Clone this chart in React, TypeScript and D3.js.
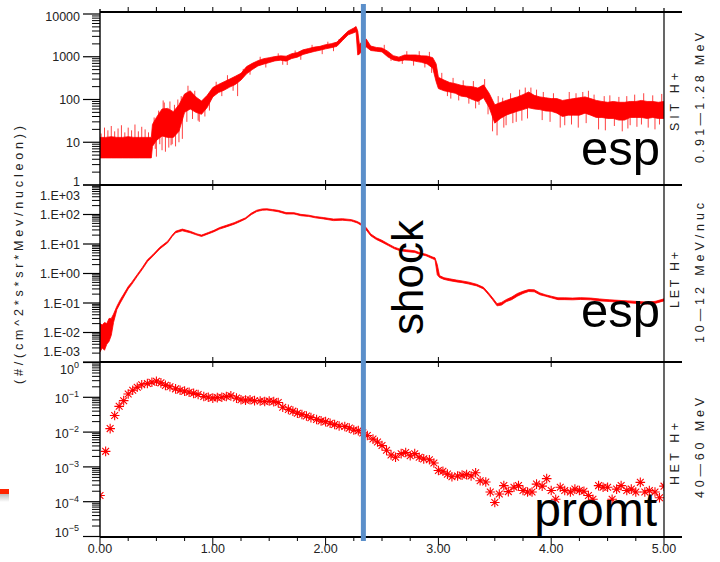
import React from "react";
import * as d3 from "d3";

const W = 720;
const H = 562;

// time axis, days
const timeMajor = [0, 1, 2, 3, 4, 5];
const timeLabels = ["0.00", "1.00", "2.00", "3.00", "4.00", "5.00"];
const shockTime = 2.335;

// SIT H+ 0.91–1.28 MeV : [time, low, high] envelope of the noisy flux
const sitBand: number[][] = [
  [0.0, 4.3, 13], [0.05, 4.3, 13], [0.1, 4.3, 13.5], [0.15, 4.3, 13], [0.2, 4.3, 13],
  [0.25, 4.3, 13.5], [0.3, 4.3, 13], [0.35, 4.3, 13], [0.4, 4.3, 13], [0.455, 4.3, 13],
  [0.465, 8, 26], [0.5, 11, 38], [0.55, 14, 60], [0.6, 13, 62], [0.65, 13, 52],
  [0.7, 18, 75], [0.75, 50, 135], [0.8, 60, 160], [0.85, 50, 115], [0.9, 45, 92],
  [0.95, 65, 125], [1.0, 115, 190], [1.05, 145, 225], [1.1, 165, 260], [1.15, 195, 300],
  [1.2, 225, 350], [1.25, 285, 410], [1.3, 400, 590], [1.35, 500, 700], [1.4, 610, 810],
  [1.45, 670, 900], [1.5, 730, 950], [1.55, 800, 1010], [1.6, 830, 1050], [1.65, 790, 1030],
  [1.7, 910, 1180], [1.75, 980, 1250], [1.8, 1130, 1450], [1.85, 1230, 1560], [1.9, 1330, 1680],
  [1.95, 1420, 1750], [2.0, 1530, 1920], [2.05, 1630, 2020], [2.1, 1750, 2200], [2.15, 2400, 3000],
  [2.2, 3250, 4000], [2.25, 3650, 4700], [2.27, 3850, 5100], [2.285, 1100, 4000], [2.3, 1150, 1900],
  [2.33, 1500, 2400], [2.36, 1700, 2600], [2.4, 1400, 1780], [2.45, 1350, 1650], [2.5, 1300, 1600],
  [2.55, 1000, 1350], [2.6, 840, 1060], [2.65, 790, 980], [2.7, 840, 1100], [2.75, 830, 1100],
  [2.8, 780, 1100], [2.85, 740, 1050], [2.9, 680, 1040], [2.95, 540, 950], [2.98, 260, 680],
  [3.0, 180, 330], [3.05, 160, 285], [3.1, 150, 250], [3.15, 140, 235], [3.2, 120, 215],
  [3.25, 115, 205], [3.3, 100, 200], [3.35, 90, 185], [3.4, 110, 220], [3.45, 65, 140],
  [3.5, 28, 75], [3.55, 36, 85], [3.6, 43, 95], [3.65, 48, 105], [3.7, 53, 115],
  [3.75, 58, 130], [3.8, 64, 150], [3.85, 60, 125], [3.9, 58, 115], [3.95, 54, 110],
  [4.0, 53, 105], [4.05, 48, 105], [4.1, 40, 95], [4.15, 43, 100], [4.2, 43, 105],
  [4.25, 43, 110], [4.3, 48, 115], [4.35, 43, 105], [4.4, 38, 95], [4.45, 38, 90],
  [4.5, 36, 86], [4.55, 36, 90], [4.6, 33, 86], [4.65, 33, 86], [4.7, 38, 90],
  [4.75, 38, 90], [4.8, 38, 95], [4.85, 36, 90], [4.9, 38, 90], [4.95, 36, 86], [5.0, 36, 90],
];

// isolated excursions of the SIT rate: [time, value]
const sitSpikes: number[][] = [
  [0.01, 16], [0.04, 22], [0.07, 19], [0.1, 24], [0.13, 18], [0.16, 21], [0.19, 25],
  [0.22, 17], [0.25, 22], [0.28, 19], [0.31, 26], [0.34, 18], [0.37, 23], [0.4, 20], [0.43, 17],
  [0.48, 38], [0.52, 55], [0.54, 30], [0.56, 95], [0.57, 85], [0.59, 60], [0.62, 90],
  [0.66, 75], [0.69, 100], [0.72, 120], [0.74, 95], [0.78, 210], [0.84, 160],
  [0.49, 7], [0.5, 4.6], [0.53, 9], [0.55, 6.5], [0.58, 6], [0.61, 7.5], [0.63, 8.5],
  [0.64, 9], [0.67, 8], [0.7, 10], [0.73, 12], [0.77, 30], [0.82, 35], [0.87, 32],
  [0.88, 30], [0.93, 40], [0.97, 55],
  [1.03, 260], [1.13, 370], [1.27, 520], [1.42, 1000], [1.58, 1200], [1.73, 1400],
  [1.88, 1900], [2.02, 2250], [2.12, 2600],
  [1.08, 120], [1.18, 160], [1.22, 120], [1.33, 380], [1.47, 560], [1.62, 650], [1.66, 640],
  [1.78, 850], [1.97, 1150], [2.07, 1350],
  [2.52, 1900], [2.72, 1350], [2.83, 1350], [2.92, 1300],
  [2.58, 800], [2.68, 680], [2.78, 620], [2.88, 560], [2.94, 420],
  [3.03, 420], [3.13, 320], [3.22, 280], [3.31, 270], [3.41, 300],
  [3.08, 120], [3.11, 105], [3.18, 95], [3.27, 80], [3.33, 62], [3.36, 75], [3.44, 45],
  [3.53, 120], [3.57, 110], [3.64, 140], [3.72, 170], [3.77, 190], [3.82, 190], [3.87, 170],
  [3.93, 150], [4.02, 140], [4.16, 150], [4.22, 140], [4.28, 150], [4.33, 160], [4.38, 130],
  [4.47, 120], [4.52, 125], [4.6, 115], [4.67, 120], [4.74, 130], [4.82, 140], [4.9, 125], [4.98, 135],
  [3.48, 18], [3.52, 14.5], [3.58, 22], [3.6, 25], [3.66, 28], [3.69, 30], [3.74, 32], [3.79, 36],
  [3.92, 33], [3.99, 30], [4.08, 22], [4.12, 25], [4.18, 26], [4.24, 22], [4.31, 28], [4.42, 20],
  [4.48, 19], [4.56, 24], [4.63, 18], [4.68, 21], [4.7, 25], [4.76, 23], [4.8, 26], [4.86, 22],
  [4.92, 20], [4.96, 26],
];

// LET H+ 10–12 MeV/nuc : [time, low, high]
const letBand: number[][] = [
  [0.0, 0.0022, 0.02], [0.02, 0.003, 0.018], [0.04, 0.0025, 0.022], [0.06, 0.004, 0.02],
  [0.08, 0.005, 0.03], [0.1, 0.008, 0.03], [0.12, 0.022, 0.042], [0.15, 0.06, 0.078],
  [0.18, 0.1, 0.13], [0.21, 0.16, 0.2], [0.25, 0.3, 0.36], [0.28, 0.42, 0.5],
  [0.33, 0.8, 0.92], [0.375, 1.38, 1.6], [0.42, 2.5, 2.9], [0.47, 3.9, 4.4],
  [0.53, 6.8, 7.7], [0.6, 11, 12.5], [0.64, 18, 20], [0.67, 24, 27], [0.73, 28, 32],
  [0.8, 24, 27], [0.86, 20, 22], [0.9, 18, 20], [0.96, 22, 24.5], [1.01, 26, 29],
  [1.06, 32, 36], [1.12, 38, 43], [1.19, 47, 53], [1.24, 57, 64], [1.29, 70, 77],
  [1.34, 98, 110], [1.39, 126, 140], [1.44, 140, 155], [1.48, 142, 156], [1.53, 133, 147],
  [1.58, 124, 138], [1.65, 104, 116], [1.72, 104, 115], [1.78, 91, 101], [1.85, 86, 95],
  [1.91, 77, 85], [1.98, 71, 79], [2.07, 62, 70], [2.15, 64, 72], [2.23, 60, 67],
  [2.28, 52, 58], [2.32, 42, 48], [2.36, 30, 36], [2.4, 19, 22], [2.45, 14.2, 16.2],
  [2.5, 11.5, 13.3], [2.56, 8.7, 9.9], [2.61, 6.9, 7.8], [2.66, 5.9, 6.7], [2.72, 5.5, 6.3],
  [2.79, 5.2, 5.9], [2.84, 4.4, 5.0], [2.89, 4.0, 4.5], [2.95, 3.15, 3.6], [2.97, 2.9, 3.4],
  [2.99, 0.9, 2.0], [3.01, 0.73, 0.85], [3.05, 0.63, 0.72], [3.1, 0.57, 0.66], [3.16, 0.52, 0.6],
  [3.21, 0.49, 0.56], [3.27, 0.44, 0.51], [3.34, 0.38, 0.43], [3.4, 0.3, 0.34], [3.44, 0.2, 0.23],
  [3.48, 0.13, 0.15], [3.52, 0.08, 0.095], [3.56, 0.085, 0.105], [3.6, 0.11, 0.13], [3.65, 0.13, 0.16],
  [3.7, 0.17, 0.21], [3.75, 0.21, 0.25], [3.8, 0.245, 0.285], [3.85, 0.24, 0.28], [3.9, 0.19, 0.22],
  [3.95, 0.17, 0.19], [4.0, 0.15, 0.17], [4.06, 0.13, 0.15], [4.12, 0.13, 0.15], [4.19, 0.128, 0.147],
  [4.26, 0.132, 0.152], [4.35, 0.128, 0.147], [4.43, 0.118, 0.137], [4.52, 0.112, 0.128],
  [4.6, 0.107, 0.123], [4.68, 0.102, 0.118], [4.76, 0.097, 0.113], [4.84, 0.092, 0.108],
  [4.92, 0.097, 0.113], [5.0, 0.118, 0.138],
];

// HET H+ 40–60 MeV : [time, flux]
const hetPoints: number[][] = [
  [0.0, 1.5e-4], [0.05, 2.8e-3], [0.09, 0.0126], [0.13, 0.03], [0.17, 0.055], [0.21, 0.08],
  [0.25, 0.125], [0.29, 0.16], [0.33, 0.195], [0.37, 0.23], [0.42, 0.25], [0.46, 0.27],
  [0.5, 0.29], [0.54, 0.26], [0.58, 0.22], [0.62, 0.2], [0.67, 0.175], [0.71, 0.16],
  [0.75, 0.15], [0.79, 0.14], [0.83, 0.13], [0.87, 0.12], [0.92, 0.105], [0.96, 0.1],
  [1.0, 0.095], [1.04, 0.098], [1.08, 0.1], [1.12, 0.105], [1.16, 0.11], [1.21, 0.095],
  [1.25, 0.085], [1.29, 0.083], [1.33, 0.085], [1.37, 0.08], [1.42, 0.078], [1.46, 0.076],
  [1.5, 0.078], [1.54, 0.075], [1.58, 0.071], [1.62, 0.052], [1.67, 0.045], [1.71, 0.04],
  [1.75, 0.035], [1.79, 0.032], [1.83, 0.029], [1.87, 0.026], [1.92, 0.023], [1.96, 0.021],
  [2.0, 0.02], [2.04, 0.018], [2.08, 0.0165], [2.12, 0.015], [2.17, 0.0145], [2.21, 0.013],
  [2.25, 0.0115], [2.29, 0.011], [2.33, 0.0095], [2.37, 0.008], [2.42, 0.0063], [2.46, 0.0052],
  [2.5, 0.0041], [2.54, 0.003], [2.58, 0.0022], [2.62, 0.0019], [2.67, 0.0024], [2.71, 0.0026],
  [2.75, 0.0021], [2.79, 0.0024], [2.83, 0.0019], [2.87, 0.0017], [2.92, 0.0016], [2.96, 0.0013],
  [3.0, 0.00079], [3.04, 0.00075], [3.08, 0.00062], [3.12, 0.00052], [3.17, 0.00055], [3.21, 0.00058],
  [3.25, 0.0006], [3.29, 0.00055], [3.33, 0.00068], [3.37, 0.0004], [3.42, 0.00037], [3.46, 0.00019],
  [3.5, 0.000095], [3.54, 0.000166], [3.58, 0.00029], [3.62, 0.000195], [3.67, 0.00026], [3.71, 0.00029],
  [3.75, 0.00021], [3.79, 0.00019], [3.83, 0.00019], [3.87, 0.00032], [3.92, 0.00028], [3.96, 0.00046],
  [4.0, 0.00021], [4.04, 0.000118], [4.08, 0.00026], [4.12, 0.00021], [4.17, 0.00019], [4.21, 0.00023],
  [4.25, 0.00021], [4.29, 0.0002], [4.33, 0.00015], [4.37, 0.000118], [4.42, 0.00029], [4.46, 0.00026],
  [4.5, 0.00026], [4.54, 0.000118], [4.58, 0.00023], [4.62, 0.00029], [4.67, 0.00021], [4.71, 0.00023],
  [4.75, 0.00019], [4.79, 0.00036], [4.83, 0.00019], [4.87, 0.00021], [4.92, 0.00019], [4.96, 0.00013],
  [5.0, 0.00028],
];

// y-axis tick values and labels
const sitTicks = [1, 10, 100, 1000, 10000];
const sitLabels = ["1", "10", "100", "1000", "10000"];
const letTicks = [1e-3, 1e-2, 1e-1, 1, 10, 100, 1000];
const letLabels = ["1.E-03", "1.E-02", "1.E-01", "1.E+00", "1.E+01", "1.E+02", "1.E+03"];
const hetTicks = [1e-5, 1e-4, 1e-3, 1e-2, 1e-1, 1];
const hetExponents = ["−5", "−4", "−3", "−2", "−1", "0"];

const X0 = 100;
const X1 = 664;
const RED = "#ff0000";
const FONT = "'Liberation Sans', Arial, sans-serif";

const x = d3.scaleLinear().domain([0, 5]).range([X0, X1]);

type Panel = {
  id: string;
  top: number;
  bottom: number;
  scale: d3.ScaleLogarithmic<number, number>;
  ticks: number[];
  nudgeTop: number;
  nudgeBottom: number;
  name: string;
  range: string;
  nameY: number;
  rangeY: number;
  nameLen: number;
  rangeLen: number;
};

const panels: Panel[] = [
  {
    id: "sit", top: 12, bottom: 185,
    scale: d3.scaleLog().domain([1, 1e4]).range([185, 14]),
    ticks: sitTicks, nudgeTop: 2, nudgeBottom: -4,
    name: "SIT  H+", range: "0.91—1.28  MeV", nameY: 102, rangeY: 98, nameLen: 58, rangeLen: 130,
  },
  {
    id: "let", top: 185, bottom: 362,
    scale: d3.scaleLog().domain([1e-3, 1e3]).range([362, 185]),
    ticks: letTicks, nudgeTop: 10, nudgeBottom: -11,
    name: "LET  H+", range: "10—12  MeV/nuc", nameY: 280, rangeY: 273, nameLen: 56, rangeLen: 140,
  },
  {
    id: "het", top: 362, bottom: 537,
    scale: d3.scaleLog().domain([1e-5, 1]).range([536.5, 362.5]),
    ticks: hetTicks, nudgeTop: 5, nudgeBottom: -6,
    name: "HET  H+", range: "40—60  MeV", nameY: 454, rangeY: 448, nameLen: 62, rangeLen: 100,
  },
];

function minorTicks(scale: d3.ScaleLogarithmic<number, number>): number[] {
  const [lo, hi] = scale.domain();
  const out: number[] = [];
  for (let k = Math.floor(Math.log10(lo)); k < Math.ceil(Math.log10(hi)); k++) {
    for (let m = 2; m <= 9; m++) {
      const v = m * Math.pow(10, k);
      if (v > lo && v < hi) out.push(v);
    }
  }
  return out;
}

function asterisk(cx: number, cy: number): string {
  const r = 4.8;
  const d = 3.4;
  return `M${cx - r},${cy}H${cx + r}M${cx},${cy - r}V${cy + r}` +
    `M${cx - d},${cy - d}L${cx + d},${cy + d}M${cx - d},${cy + d}L${cx + d},${cy - d}`;
}

function bandMid(band: number[][], t: number): number {
  const i = d3.bisector((d: number[]) => d[0]).left(band, t);
  const a = band[Math.max(0, i - 1)];
  const b = band[Math.min(band.length - 1, i)];
  const f = b[0] === a[0] ? 0 : (t - a[0]) / (b[0] - a[0]);
  const la = Math.log10(Math.sqrt(a[1] * a[2]));
  const lb = Math.log10(Math.sqrt(b[1] * b[2]));
  return Math.pow(10, la + (lb - la) * f);
}

export default function App() {
  const [sitP, letP, hetP] = panels;

  const sitArea = d3.area<number[]>()
    .x((d) => x(d[0]))
    .y0((d) => sitP.scale(d[1]))
    .y1((d) => sitP.scale(d[2]))(sitBand) as string;

  const letArea = d3.area<number[]>()
    .x((d) => x(d[0]))
    .y0((d) => letP.scale(d[1]))
    .y1((d) => letP.scale(d[2]))(letBand) as string;

  const quarterTicks = d3.range(0, 5.0001, 0.25);

  return (
    <svg
      width={W}
      height={H}
      viewBox={`0 0 ${W} ${H}`}
      style={{ position: "absolute", left: 0, top: 0, display: "block", background: "#fff" }}
      fontFamily={FONT}
    >
      <defs>
        {panels.map((p) => (
          <clipPath id={`clip-${p.id}`} key={p.id}>
            <rect x={X0} y={p.top} width={X1 - X0} height={p.bottom - p.top} />
          </clipPath>
        ))}
        <linearGradient id="dashShade" x1="0" y1="0" x2="0" y2="1">
          <stop offset="0" stopColor="#bdbdbd" />
          <stop offset="1" stopColor="#ffffff" />
        </linearGradient>
      </defs>
      <rect width={W} height={H} fill="#fff" />

      {/* data */}
      <g clipPath="url(#clip-sit)">
        <path d={sitArea} fill={RED} stroke={RED} strokeWidth={0.8} strokeLinejoin="round" />
        {sitSpikes.map(([t, v], i) => (
          <line
            key={i}
            x1={x(t)}
            x2={x(t)}
            y1={sitP.scale(bandMid(sitBand, t))}
            y2={sitP.scale(v)}
            stroke={RED}
            strokeWidth={1}
            opacity={0.75}
          />
        ))}
      </g>
      <g clipPath="url(#clip-let)">
        <path d={letArea} fill={RED} stroke={RED} strokeWidth={0.8} strokeLinejoin="round" />
      </g>
      <g clipPath="url(#clip-het)">
        {hetPoints.map(([t, v], i) => (
          <path key={i} d={asterisk(x(t), hetP.scale(v))} stroke={RED} strokeWidth={1.1} fill="none" />
        ))}
      </g>

      {/* frame lines */}
      <g stroke="#000">
        {[12, 185, 362, 537].map((y) => (
          <line key={y} x1={X0} x2={682} y1={y} y2={y} strokeWidth={2} />
        ))}
        <line x1={X0} x2={X0} y1={9} y2={537} strokeWidth={1.4} />
        <line x1={X1} x2={X1} y1={8} y2={537} strokeWidth={1.2} />
        {/* time ticks along the top border */}
        {quarterTicks.slice(1, -1).map((t) => (
          <line key={`tt${t}`} x1={x(t)} x2={x(t)} y1={7} y2={12} strokeWidth={1} />
        ))}
        {/* whole-day ticks across the panel dividers */}
        {[185, 362].map((y) =>
          timeMajor.slice(1, -1).map((t) => (
            <line key={`d${y}-${t}`} x1={x(t)} x2={x(t)} y1={y - 5} y2={y + 5} strokeWidth={1} />
          ))
        )}
        {/* bottom time axis */}
        {quarterTicks.map((t) => {
          const major = Math.abs(t - Math.round(t)) < 1e-6;
          return (
            <line key={`bt${t}`} x1={x(t)} x2={x(t)} y1={537} y2={major ? 545 : 541} strokeWidth={1} />
          );
        })}
      </g>

      {/* y axes */}
      {panels.map((p) => (
        <g key={`ax-${p.id}`} stroke="#000">
          {minorTicks(p.scale).map((v) => (
            <line key={v} x1={X0 - 8} x2={X0} y1={p.scale(v)} y2={p.scale(v)} strokeWidth={1} />
          ))}
          {p.ticks.map((v) => (
            <line key={`M${v}`} x1={X0 - 17} x2={X0} y1={p.scale(v)} y2={p.scale(v)} strokeWidth={1.2} />
          ))}
        </g>
      ))}

      {/* tick labels */}
      <g fontSize={12.5} fill="#222">
        {sitTicks.map((v, i) => {
          const nudge = i === 0 ? sitP.nudgeBottom : i === sitTicks.length - 1 ? sitP.nudgeTop : 0;
          return (
            <text key={v} x={80} y={sitP.scale(v) + nudge + 4.5} textAnchor="end">
              {sitLabels[i]}
            </text>
          );
        })}
        {letTicks.map((v, i) => {
          const nudge = i === 0 ? letP.nudgeBottom : i === letTicks.length - 1 ? letP.nudgeTop : 0;
          return (
            <text key={v} x={80} y={letP.scale(v) + nudge + 4.5} textAnchor="end">
              {letLabels[i]}
            </text>
          );
        })}
        {hetTicks.map((v, i) => {
          const nudge = i === 0 ? hetP.nudgeBottom : i === hetTicks.length - 1 ? hetP.nudgeTop : 0;
          return (
            <text key={v} x={79} y={hetP.scale(v) + nudge + 6} textAnchor="end">
              10
              <tspan dy={-6} fontSize={9}>
                {hetExponents[i]}
              </tspan>
            </text>
          );
        })}
        {timeMajor.map((t, i) => (
          <text key={t} x={x(t)} y={553} textAnchor="middle">
            {timeLabels[i]}
          </text>
        ))}
      </g>

      {/* right-hand channel labels */}
      <g fontSize={12.5} fill="#222" style={{ whiteSpace: "pre" }}>
        {panels.map((p) => (
          <g key={`lab-${p.id}`}>
            <text
              transform={`translate(679,${p.nameY}) rotate(-90)`}
              textAnchor="middle"
              textLength={p.nameLen}
              lengthAdjust="spacing"
            >
              {p.name}
            </text>
            <text
              transform={`translate(704,${p.rangeY}) rotate(-90)`}
              textAnchor="middle"
              textLength={p.rangeLen}
              lengthAdjust="spacing"
            >
              {p.range}
            </text>
          </g>
        ))}
      </g>

      {/* common y title */}
      <text
        transform="translate(23,255) rotate(-90)"
        textAnchor="middle"
        fontSize={12.5}
        fill="#222"
        textLength={258}
        lengthAdjust="spacing"
      >
        (#/(cm^2*s*sr*Mev/nucleon))
      </text>

      {/* shock time marker */}
      <rect x={x(shockTime) - 2.5} y={4} width={5} height={537} fill="#5b8fca" />

      {/* annotations */}
      <g fill="#000" fontFamily="'Liberation Sans', Arial, sans-serif">
        <text x={660} y={165} fontSize={49} textAnchor="end">esp</text>
        <text x={660} y={327} fontSize={49} textAnchor="end">esp</text>
        <text x={657} y={526} fontSize={48} textAnchor="end">promt</text>
        <text transform="translate(423,335) rotate(-90)" fontSize={44}>shock</text>
      </g>

      {/* small red marker at the left margin */}
      <rect x={0} y={494} width={9} height={8} fill="url(#dashShade)" />
      <rect x={0} y={489} width={9} height={5} fill="#ff2400" />
    </svg>
  );
}
